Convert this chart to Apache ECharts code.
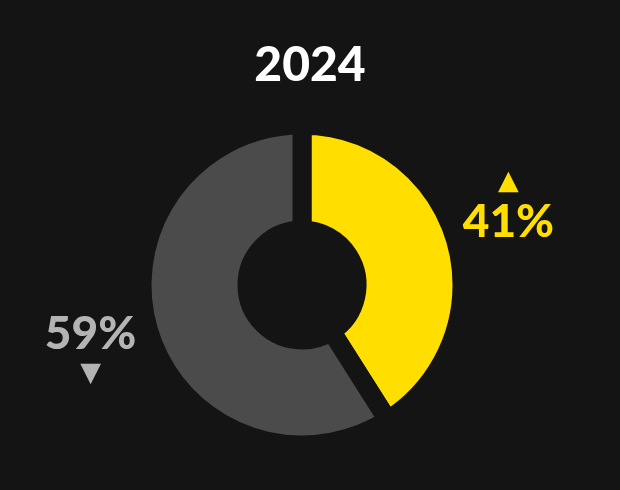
<!DOCTYPE html>
<html>
<head>
<meta charset="utf-8">
<script src="https://cdn.jsdelivr.net/npm/echarts@6/dist/echarts.min.js"></script>
<style>
html,body{margin:0;padding:0;background:#141414;}
#c{width:620px;height:490px;}
</style>
</head>
<body>
<div id="c"></div>
<script>
const title = '2024';
const categories = ['Up', 'Down'];
const values = [41, 59];
const directions = ['up', 'down'];

const colors = ['#FFDE00', '#4B4B4B'];
const labelColors = ['#FFDE00', '#B4B4B4'];
const center = [302, 285];
const labelDist = 215;
const nudges = [[0, -18], [-5, 4]];

const total = values.reduce((a, b) => a + b, 0);
const startAngle = 90;
const mids = [];
let acc = 0;
values.forEach(v => {
  const mid = startAngle - (acc + v / 2) / total * 360;
  mids.push(mid);
  acc += v;
});

const chart = echarts.init(document.getElementById('c'), null, {renderer: 'canvas'});
chart.setOption({
  backgroundColor: '#141414',
  animation: false,
  title: {
    text: title,
    left: 'center',
    top: 37,
    textStyle: {color: '#ffffff', fontFamily: 'Lato', fontWeight: 900, fontSize: 48}
  },
  series: [{
    type: 'pie',
    center: center,
    radius: [55, 160],
    startAngle: startAngle,
    clockwise: true,
    avoidLabelOverlap: false,
    itemStyle: {borderColor: '#141414', borderWidth: 19},
    emphasis: {disabled: true},
    labelLine: {show: false},
    label: {
      show: true,
      position: 'outside',
      formatter: p => {
        const d = directions[p.dataIndex];
        return d === 'up'
          ? '{tri' + p.dataIndex + '|▲}\n{val' + p.dataIndex + '|' + p.value + '%}'
          : '{val' + p.dataIndex + '|' + p.value + '%}\n{tri' + p.dataIndex + '|▼}';
      },
      rich: {
        tri0: {color: labelColors[0], fontFamily: 'DejaVu Sans', fontSize: 27, lineHeight: 30, align: 'center'},
        val0: {color: labelColors[0], fontFamily: 'Lato', fontWeight: 900, fontSize: 46, lineHeight: 50, align: 'center'},
        tri1: {color: labelColors[1], fontFamily: 'DejaVu Sans', fontSize: 27, lineHeight: 30, align: 'center'},
        val1: {color: labelColors[1], fontFamily: 'Lato', fontWeight: 900, fontSize: 46, lineHeight: 50, align: 'center'}
      }
    },
    labelLayout: p => {
      const i = p.dataIndex;
      const a = mids[i] * Math.PI / 180;
      return {
        x: center[0] + labelDist * Math.cos(a) + nudges[i][0],
        y: center[1] - labelDist * Math.sin(a) + nudges[i][1],
        align: 'center',
        verticalAlign: 'middle'
      };
    },
    data: categories.map((c, i) => ({name: c, value: values[i], itemStyle: {color: colors[i]}}))
  }]
});
</script>
</body>
</html>
